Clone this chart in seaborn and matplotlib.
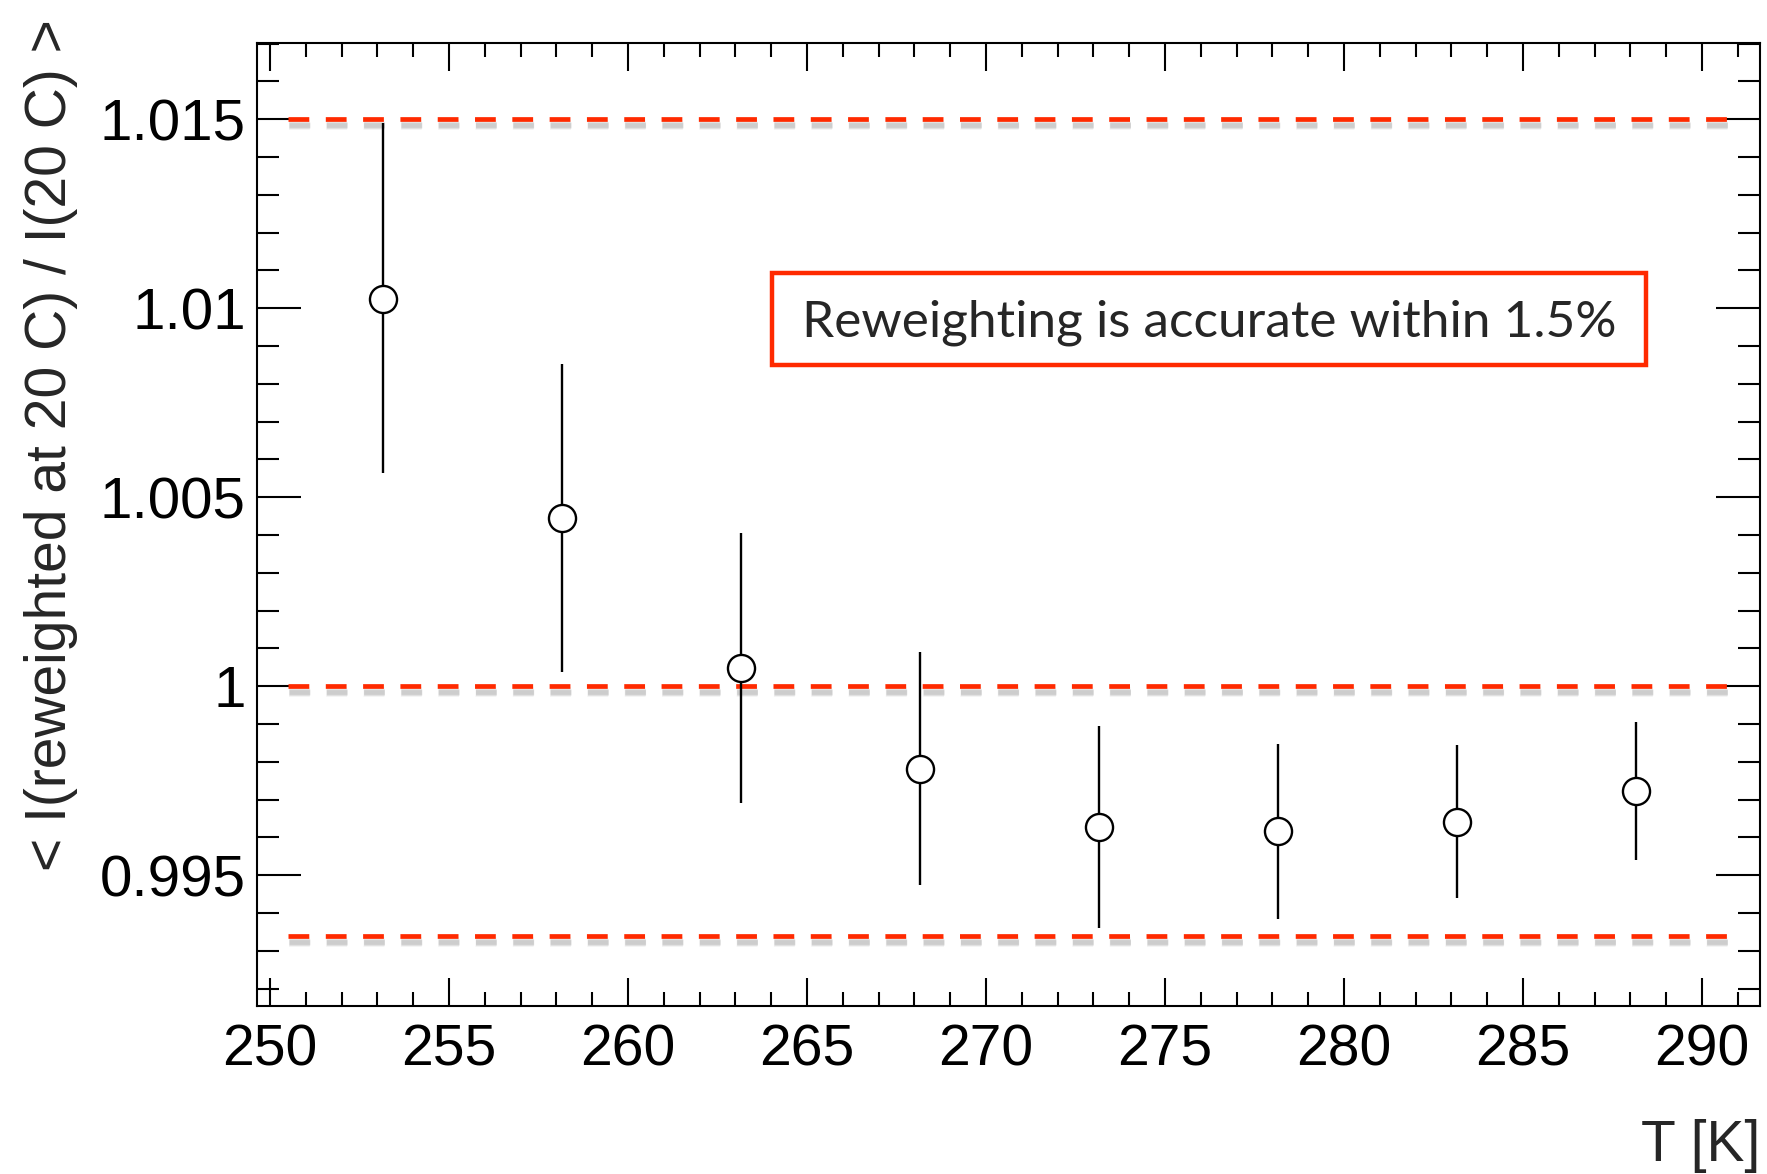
import numpy as np
import seaborn as sns
import matplotlib.pyplot as plt
import matplotlib.transforms as mtransforms
from matplotlib.ticker import MultipleLocator, FuncFormatter
from matplotlib.patches import Rectangle

sns.set_theme(style='ticks')
plt.rcParams['font.family'] = ['Liberation Sans', 'DejaVu Sans']

# data
temperatura = [253.15, 258.15, 263.15, 268.15, 273.15, 278.15, 283.15, 288.15]
cociente = [1.01024, 1.00446, 1.00047, 0.99781, 0.99628, 0.99616, 0.99642, 0.99723]
limite_sup = [1.01489, 1.00853, 1.00405, 1.00091, 0.99896, 0.99848, 0.99845, 0.99905]
limite_inf = [1.00563, 1.00037, 0.99691, 0.99473, 0.99359, 0.99383, 0.99440, 0.99541]
niveles = [1.015, 1.0, 0.9934]

rojo = '#ff2a00'
x_min, x_max = 249.63, 291.62

fig = plt.figure(figsize=(17.67, 11.74), dpi=100)
ax = fig.add_axes([0.1453, 0.1428, 0.8507, 0.8203])

# barras de error
ax.vlines(temperatura, limite_inf, limite_sup, colors='black', linewidth=1.7, zorder=3)

# puntos
sns.scatterplot(x=temperatura, y=cociente, ax=ax, marker='o', s=19.5**2,
                facecolor='white', edgecolor='black', linewidth=1.7, zorder=4)

# lineas rojas discontinuas con sombra
ini = (250.5 - x_min) / (x_max - x_min)
fin = (290.8 - x_min) / (x_max - x_min)
desplazada = mtransforms.offset_copy(ax.get_yaxis_transform(), fig=fig, x=1, y=-6, units='dots')
for nivel in niveles:
    for ancho, alfa in [(7, 0.10), (5, 0.15), (3.4, 0.2)]:
        s = ax.axhline(nivel, xmin=ini, xmax=fin, color='gray', alpha=alfa,
                       linewidth=ancho, zorder=1.5)
        s.set_dashes([4.4 * 3.4 / ancho, 3.5 * 3.4 / ancho])
        s.set_transform(desplazada)
    ax.axhline(nivel, xmin=ini, xmax=fin, color=rojo, linewidth=3.4,
               linestyle=(0, (4.4, 3.5)), zorder=2)

# recuadro con texto
caja = Rectangle((0.3426, 0.6660), 0.5815, 0.0956, transform=ax.transAxes,
                 fill=False, edgecolor=rojo, linewidth=3.2, zorder=5)
ax.add_patch(caja)
ax.text(0.3426 + 0.5815 / 2, 0.6660 + 0.0956 / 2 - 0.004, 'Reweighting is accurate within 1.5%',
        transform=ax.transAxes, ha='center', va='center', fontsize=37,
        family=['Lato', 'DejaVu Sans'], zorder=6)

ax.set_xlim(x_min, x_max)
ax.set_ylim(0.99153, 1.01701)

ax.xaxis.set_major_locator(MultipleLocator(5))
ax.xaxis.set_minor_locator(MultipleLocator(1))
ax.yaxis.set_major_locator(MultipleLocator(0.005))
ax.yaxis.set_minor_locator(MultipleLocator(0.001))
ax.yaxis.set_major_formatter(FuncFormatter(lambda v, p: '%g' % round(v, 6)))

ax.tick_params(which='both', direction='in', top=True, right=True, width=1.5, colors='black')
ax.tick_params(axis='x', which='major', length=20, labelsize=41, pad=12)
ax.tick_params(axis='x', which='minor', length=10)
ax.tick_params(axis='y', which='major', length=32, labelsize=42, pad=8)
ax.tick_params(axis='y', which='minor', length=16)

for lado in ax.spines.values():
    lado.set_linewidth(1.5)
    lado.set_color('black')

ax.set_xlabel('T [K]', fontsize=41, loc='right', labelpad=30)
fig.text(0.029, 0.621, '< I(reweighted at 20 C) / I(20 C) >', rotation=90,
         ha='center', va='center', fontsize=41)

plt.savefig('out.png', dpi=100)
